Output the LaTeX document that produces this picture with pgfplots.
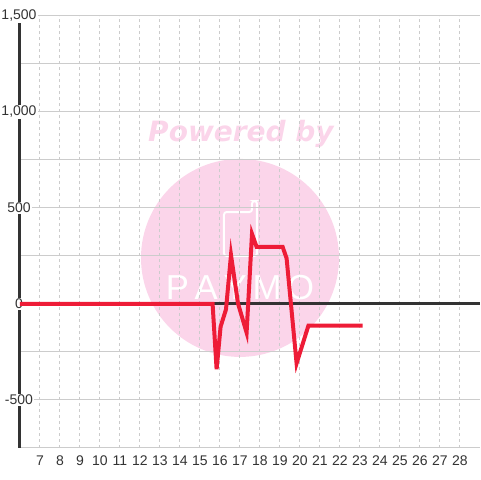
\documentclass[border=0pt]{standalone}
\usepackage{fontspec}
\setmainfont{Liberation Sans}
\newfontfamily\wmfont{DejaVu Sans}
\usepackage{pgfplots}
\pgfplotsset{compat=1.18}
\usetikzlibrary{calc}

\definecolor{lnred}{HTML}{EE1C37}
\definecolor{axdark}{HTML}{333333}
\definecolor{gridgray}{HTML}{CCCCCC}
\definecolor{wmpink}{HTML}{FBD5EA}

\begin{document}
\begin{tikzpicture}
  \begin{axis}[
      set layers,
      scale only axis,
      width=345pt, height=324pt,
      xmin=6, xmax=29,
      ymin=-750, ymax=1500,
      axis line style={draw=none},
      tick style={draw=none},
      xtick={7,...,28},
      ytick={-500,0,500,1000,1500},
      minor ytick={-750,-250,250,750,1250},
      xmajorgrids, ymajorgrids, yminorgrids,
      major x grid style={gridgray, line width=0.75pt, dash pattern=on 2.25pt off 2.25pt},
      major y grid style={gridgray, line width=0.75pt},
      minor y grid style={gridgray, line width=0.75pt},
      /pgf/number format/assume math mode=true,
      ticklabel style={font=\fontsize{10.5}{12}\selectfont, text=axdark},
      yticklabel style={anchor=center, xshift=-0.75pt, fill=white, inner sep=1pt},
      xticklabel style={anchor=north, yshift=-2pt},
      clip=false,
    ]

    % watermark
    \begin{pgfonlayer}{axis background}
      \fill[wmpink] (axis cs:17,240) circle[radius=74.25pt];
      \node[text=wmpink, font=\wmfont\fontsize{21}{24}\selectfont\bfseries\itshape]
        at (axis cs:17.05,885) {Powered by};
      \draw[white, line width=1.5pt, rounded corners=2pt]
        (axis cs:16.2,479) -- (axis cs:16.2,250) -- (axis cs:17.85,250)
        -- (axis cs:17.85,536) -- (axis cs:17.6,536) -- (axis cs:17.6,479) -- cycle;
      \node[text=white, font=\fontsize{26}{28}\selectfont]
        at (axis cs:17,83) {P\,A\,Y\,M\,O};
    \end{pgfonlayer}

    \begin{pgfonlayer}{axis lines}
      \draw[axdark, line width=2.25pt] (axis cs:6,0) -- (axis cs:29,0);
      \draw[axdark, line width=2.25pt] (axis cs:6,-750) -- (axis cs:6,1500);
    \end{pgfonlayer}

    \addplot[color=lnred, line width=3pt, mark=none] coordinates {
      (6,0) (15.63,0) (15.83,-340) (16.03,-118) (16.3,-28) (16.55,255)
      (16.9,3) (17.33,-149) (17.6,365) (17.83,298) (19.13,298) (19.33,238)
      (19.83,-309) (20.42,-113) (23.13,-113)
    };

  \end{axis}
  \pgfresetboundingbox
  \path ($(current axis.south west)+(-15pt,-24pt)$) rectangle ($(current axis.north east)+(0pt,12pt)$);
\end{tikzpicture}
\end{document}
